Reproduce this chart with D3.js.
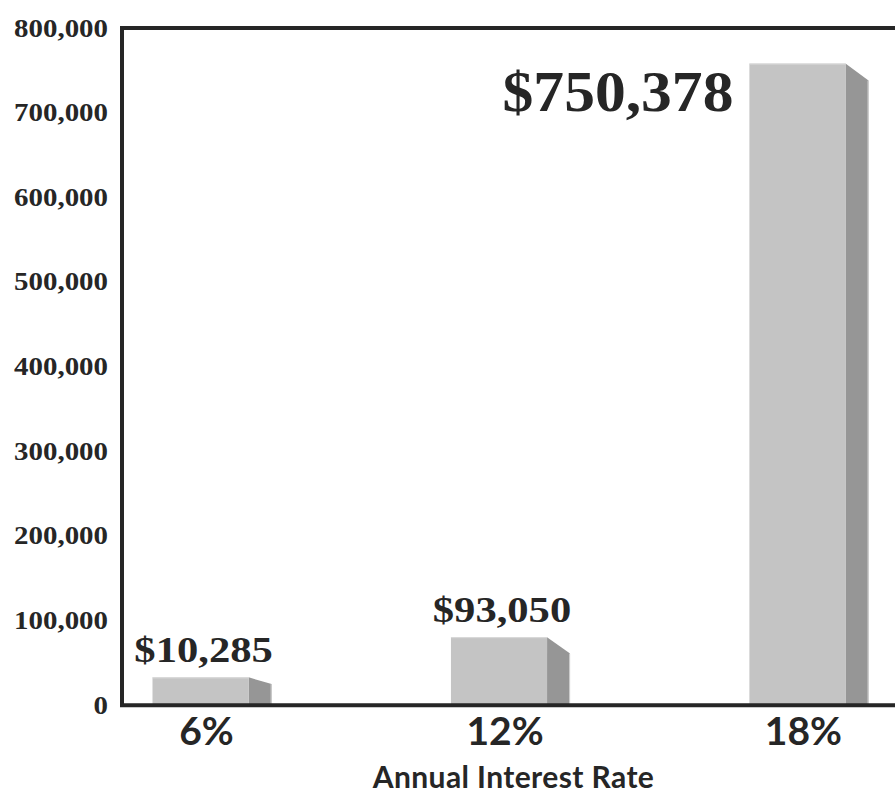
<!DOCTYPE html>
<html>
<head>
<meta charset="utf-8">
<script src="https://cdn.jsdelivr.net/npm/d3@7/dist/d3.min.js"></script>
<style>
  html, body { margin: 0; padding: 0; background: #ffffff; }
  svg { display: block; }
</style>
</head>
<body>
<svg id="chart" width="895" height="795"></svg>
<script>
// ---- data ----
const categories = ["6%", "12%", "18%"];
const barValues = [33000, 80500, 758000];          // bar heights as drawn
const valueLabels = ["$10,285", "$93,050", "$750,378"];
const yTickValues = [0, 100000, 200000, 300000, 400000, 500000, 600000, 700000, 800000];
const xAxisTitle = "Annual Interest Rate";

// ---- layout ----
const W = 895, H = 795;
const plotLeft = 122, plotTop = 28, plotBottom = 705.3;
const ink = "#262626";
const serif = "'Liberation Serif', 'Times New Roman', serif";
const sans = "Lato, 'Open Sans', sans-serif";

const svg = d3.select("#chart");

const y = d3.scaleLinear().domain([0, 800000]).range([plotBottom, plotTop]);
const x = d3.scaleBand().domain(categories).range([152.5, 845.5]).paddingInner(0.678).paddingOuter(0);
const bw = x.bandwidth();
const depth = 23;

// ---- bars ----
const data = categories.map((c, i) => ({ c, v: barValues[i], label: valueLabels[i] }));
const bars = svg.append("g");
data.forEach(d => {
  const x0 = x(d.c), top = y(d.v), base = y(0);
  const h = base - top;
  const drop = Math.min(17, h * 0.24);
  bars.append("polygon")
    .attr("points", [[x0 + bw, top], [x0 + bw + depth, top + drop], [x0 + bw + depth, base], [x0 + bw, base]].map(p => p.join(",")).join(" "))
    .attr("fill", "#969696");
  bars.append("line")
    .attr("x1", x0 + bw + depth - 0.5).attr("x2", x0 + bw + depth - 0.5)
    .attr("y1", top + drop).attr("y2", base)
    .attr("stroke", "#cfcfcf").attr("stroke-width", 1);
  bars.append("rect")
    .attr("x", x0).attr("y", top).attr("width", bw).attr("height", h)
    .attr("fill", "#c4c4c4");
  bars.append("line")
    .attr("x1", x0).attr("x2", x0 + bw)
    .attr("y1", top + 0.5).attr("y2", top + 0.5)
    .attr("stroke", "#dadada").attr("stroke-width", 1);
});

// ---- frame ----
svg.append("path")
  .attr("d", `M${W + 10},${plotTop} H${plotLeft} V${plotBottom} H${W + 10}`)
  .attr("fill", "none").attr("stroke", ink).attr("stroke-width", 4);

// ---- y axis ----
const tickScale = 1.18;
const yAxis = d3.axisLeft(y).tickValues(yTickValues).tickSize(0).tickPadding(0).tickFormat(d3.format(","));
const gy = svg.append("g").attr("transform", `translate(${plotLeft},0)`).call(yAxis);
gy.select(".domain").remove();
gy.selectAll(".tick text")
  .attr("x", 0).attr("dy", null).attr("y", 0)
  .attr("transform", `translate(-14,8) scale(${tickScale},1)`)
  .attr("text-anchor", "end")
  .attr("font-family", serif).attr("font-weight", "bold").attr("font-size", 24.5)
  .attr("fill", ink);

// ---- category labels ----
svg.append("g").selectAll("text").data(categories).join("text")
  .attr("x", d => x(d) + bw / 2 + 6).attr("y", 745)
  .attr("text-anchor", "middle")
  .attr("font-family", sans).attr("font-weight", "bold").attr("font-size", 39)
  .attr("fill", ink).text(d => d);

// ---- axis title ----
svg.append("text")
  .attr("x", 513.5).attr("y", 788)
  .attr("text-anchor", "middle")
  .attr("font-family", sans).attr("font-weight", "bold").attr("font-size", 30)
  .attr("letter-spacing", 0.4)
  .attr("fill", ink).text(xAxisTitle);

// ---- value labels ----
data.forEach(d => {
  const x0 = x(d.c), top = y(d.v);
  const small = 35.5;
  if (top - 15 - small < plotTop) {
    // not enough room above: big label to the left of the bar
    svg.append("text")
      .attr("transform", `translate(${x0 - 16},${top + 47}) scale(1.08,1)`)
      .attr("text-anchor", "end")
      .attr("font-family", serif).attr("font-weight", "bold").attr("font-size", 57)
      .attr("fill", ink).text(d.label);
  } else {
    svg.append("text")
      .attr("transform", `translate(${x0 + bw / 2 + 3},${top - 15}) scale(1.2,1)`)
      .attr("text-anchor", "middle")
      .attr("font-family", serif).attr("font-weight", "bold").attr("font-size", small)
      .attr("fill", ink).text(d.label);
  }
});
</script>
</body>
</html>
